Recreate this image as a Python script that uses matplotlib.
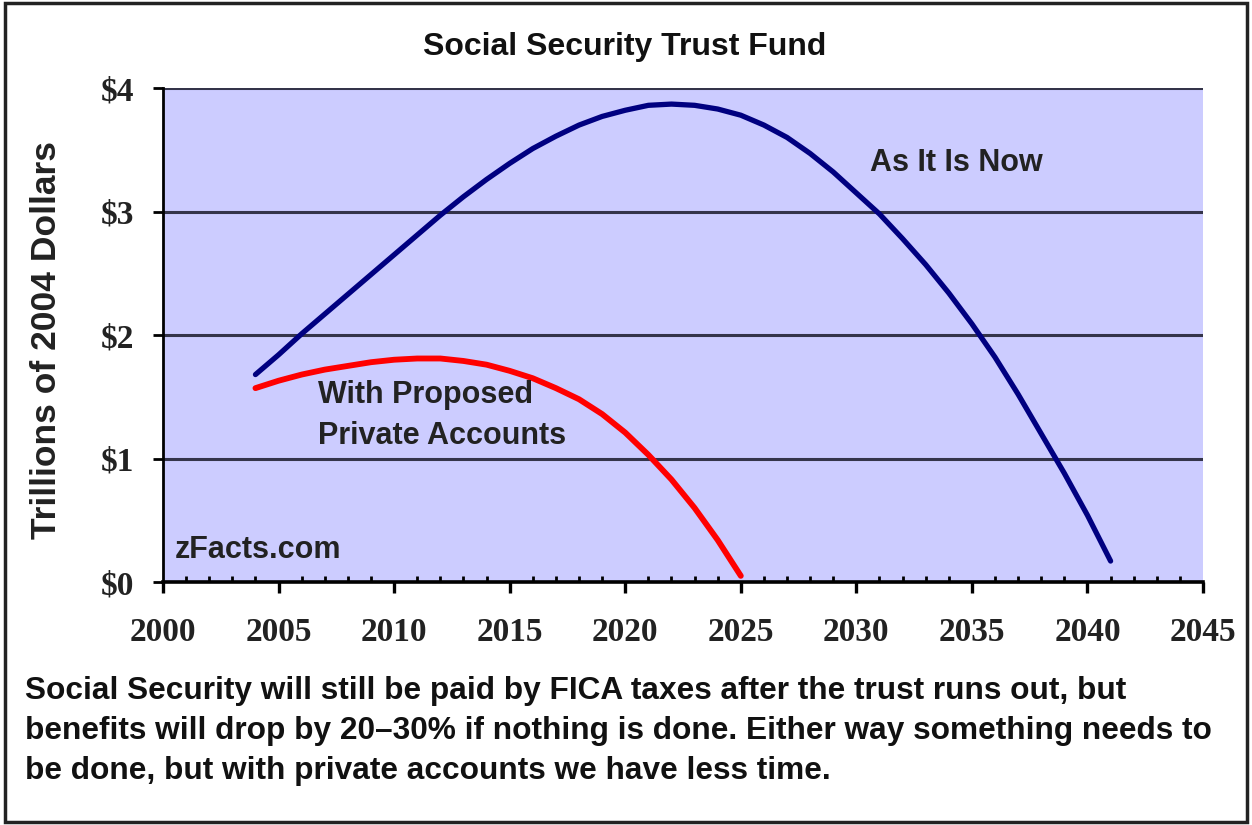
import matplotlib
matplotlib.use('Agg')
import matplotlib.pyplot as plt
from matplotlib.patches import Rectangle
from matplotlib.ticker import MultipleLocator, FuncFormatter

# trust fund balance, trillions of 2004 dollars
years_now = list(range(2004, 2042))
fund_now = [1.68, 1.84, 2.01, 2.17, 2.33, 2.49, 2.65, 2.81, 2.97, 3.12,
            3.26, 3.39, 3.51, 3.61, 3.70, 3.77, 3.82, 3.86, 3.87, 3.86,
            3.83, 3.78, 3.70, 3.60, 3.47, 3.32, 3.15, 2.98, 2.78, 2.57,
            2.34, 2.09, 1.82, 1.52, 1.20, 0.88, 0.54, 0.17]

years_private = list(range(2004, 2026))
fund_private = [1.57, 1.63, 1.68, 1.72, 1.75, 1.78, 1.80, 1.81, 1.81, 1.79,
                1.76, 1.71, 1.65, 1.57, 1.48, 1.36, 1.21, 1.03, 0.83, 0.60,
                0.34, 0.05]

title = 'Social Security Trust Fund'
ylabel = 'Trillions of 2004 Dollars'
label_now = 'As It Is Now'
label_private = 'With Proposed\nPrivate Accounts'
caption = ['Social Security will still be paid by FICA taxes after the trust runs out, but',
           'benefits will drop by 20\u201330% if nothing is done. Either way something needs to',
           'be done, but with private accounts we have less time.']

plt.rcParams['font.family'] = ['Liberation Sans', 'DejaVu Sans']
plt.rcParams['font.weight'] = 'bold'

fig = plt.figure(figsize=(12.52, 8.25), dpi=100)
ax = fig.add_axes([0.1302, 0.2945, 0.8307, 0.5988])
ax.set_facecolor('#ccccff')

ax.plot(years_now, fund_now, color='#000080', lw=3.8, solid_capstyle='round',
        solid_joinstyle='round', zorder=3)
ax.plot(years_private, fund_private, color='#ff0000', lw=4.2, solid_capstyle='round',
        solid_joinstyle='round', zorder=3)

ax.set_xlim(2000, 2045)
ax.set_ylim(0, 4)
ax.xaxis.set_major_locator(MultipleLocator(5))
ax.xaxis.set_minor_locator(MultipleLocator(1))
ax.yaxis.set_major_locator(MultipleLocator(1))
ax.yaxis.set_major_formatter(FuncFormatter(lambda v, pos: '$%d' % v))

ax.grid(axis='y', color='#34344a', lw=2.2, zorder=1)
ax.set_axisbelow(True)
for side in ('top', 'right'):
    ax.spines[side].set_visible(False)
ax.spines['left'].set_linewidth(2)
ax.spines['bottom'].set_linewidth(2.6)

ax.tick_params(axis='x', which='major', direction='out', length=8, width=2.4, pad=17)
ax.tick_params(axis='x', which='minor', direction='in', length=4, width=2)
ax.tick_params(axis='y', which='major', direction='out', length=7, width=2, pad=14)
for lab in ax.get_xticklabels() + ax.get_yticklabels():
    lab.set_fontfamily('Liberation Serif')
    lab.set_fontweight('bold')
    lab.set_fontsize(24)
    lab.set_color('#222222')

ax.text(2030.6, 3.39, label_now, fontsize=22, va='center', ha='left', color='#222222')
ax.text(2006.7, 1.35, label_private, fontsize=22, va='center', ha='left',
        linespacing=1.5, color='#222222')
ax.text(2000.5, 0.26, 'zFacts.com', fontsize=22, va='center', ha='left', color='#222222')

fig.text(0.4992, 0.943, title, fontsize=23, ha='center', va='center', color='#111111')
fig.text(0.037, 0.588, ylabel, fontsize=25.5, rotation=90, ha='center', va='center',
         color='#222222')
for i, line in enumerate(caption):
    fig.text(0.020, 1 - (691 + 40 * i) / 825, line, fontsize=22.8, ha='left', va='center',
             color='#111111')

# outer frame around the whole chart
fig.patches.append(Rectangle((0.004, 0.004), 0.992, 0.992, transform=fig.transFigure,
                             fill=False, edgecolor='#222222', lw=2.5))

fig.savefig('out.png', dpi=100)
